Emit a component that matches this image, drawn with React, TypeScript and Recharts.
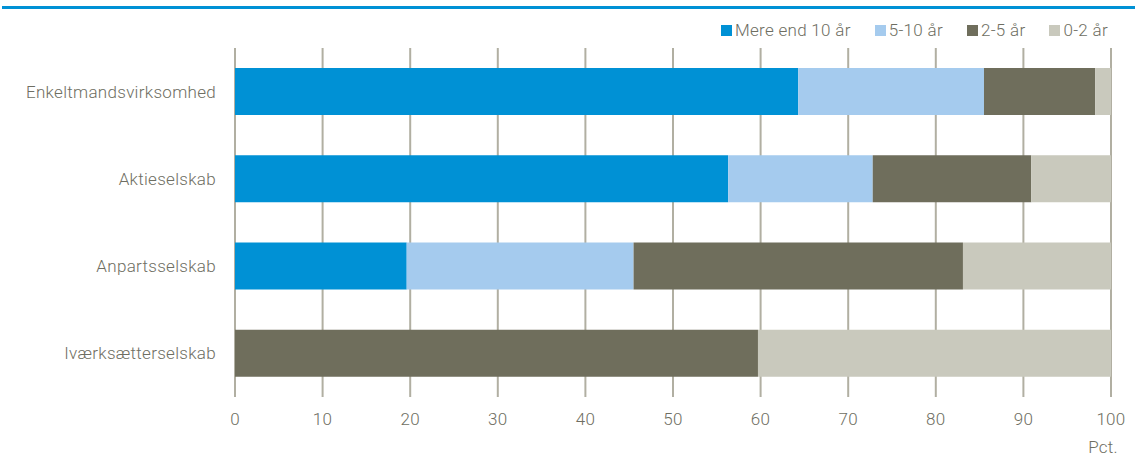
import { BarChart, Bar, XAxis, YAxis, CartesianGrid } from "recharts";

// Andel af virksomheder fordelt på alder, pct.
const categories = [
  "Enkeltmandsvirksomhed",
  "Aktieselskab",
  "Anpartsselskab",
  "Iværksætterselskab",
];
const over10 = [64.3, 56.3, 19.6, 0];
const from5to10 = [21.2, 16.5, 25.9, 0];
const from2to5 = [12.7, 18.1, 37.6, 59.7];
const from0to2 = [1.8, 9.1, 16.9, 40.3];
const xTicks = [0, 10, 20, 30, 40, 50, 60, 70, 80, 90, 100];

const series = [
  { key: "over10", name: "Mere end 10 år", color: "#0091d5" },
  { key: "from5to10", name: "5-10 år", color: "#a5cbee" },
  { key: "from2to5", name: "2-5 år", color: "#6f6e5c" },
  { key: "from0to2", name: "0-2 år", color: "#c9c9bd" },
];

const data = categories.map((name, i) => ({
  name,
  over10: over10[i],
  from5to10: from5to10[i],
  from2to5: from2to5[i],
  from0to2: from0to2[i],
}));

const FONT = "Roboto, sans-serif";
const TEXT = "#6e6e62";
const tickStyle = { fill: TEXT, fontSize: 17, fontFamily: FONT, fontWeight: 300, letterSpacing: 0.3 };

export default function App() {
  return (
    <div style={{ position: "absolute", left: 0, top: 0, width: 1135, height: 459, background: "#fff" }}>
      <div style={{ position: "absolute", left: 2, top: 6, width: 1133, height: 3, background: "#0091d5" }} />
      {/* legend */}
      <div
        style={{
          position: "absolute",
          right: 27,
          top: 20,
          display: "flex",
          gap: 24,
          fontFamily: FONT,
          fontWeight: 300,
          letterSpacing: 0.3,
          fontSize: 17,
          color: TEXT,
        }}
      >
        {series.map((s) => (
          <div key={s.key} style={{ display: "flex", alignItems: "center" }}>
            <span style={{ width: 11, height: 11, background: s.color, marginRight: 3, display: "inline-block" }} />
            <span>{s.name}</span>
          </div>
        ))}
      </div>
      <BarChart
        width={1135}
        height={459}
        data={data}
        layout="vertical"
        margin={{ top: 48, right: 24, bottom: 0, left: 0 }}
        barSize={47}
      >
        <CartesianGrid horizontal={false} stroke="#b1afa2" strokeWidth={2} />
        <XAxis
          type="number"
          domain={[0, 100]}
          ticks={xTicks}
          axisLine={false}
          tickLine={false}
          tickSize={0}
          tickMargin={16}
          height={62}
          tick={tickStyle}
        />
        <YAxis
          type="category"
          dataKey="name"
          width={235}
          axisLine={false}
          tickLine={false}
          tickSize={0}
          tickMargin={19}
          tick={tickStyle}
        />
        {series.map((s) => (
          <Bar key={s.key} dataKey={s.key} name={s.name} stackId="a" fill={s.color} isAnimationActive={false} />
        ))}
      </BarChart>
      <div
        style={{
          position: "absolute",
          right: 17,
          top: 437,
          fontFamily: FONT,
          fontWeight: 300,
          letterSpacing: 0.3,
          fontSize: 17,
          color: TEXT,
        }}
      >
        Pct.
      </div>
    </div>
  );
}
